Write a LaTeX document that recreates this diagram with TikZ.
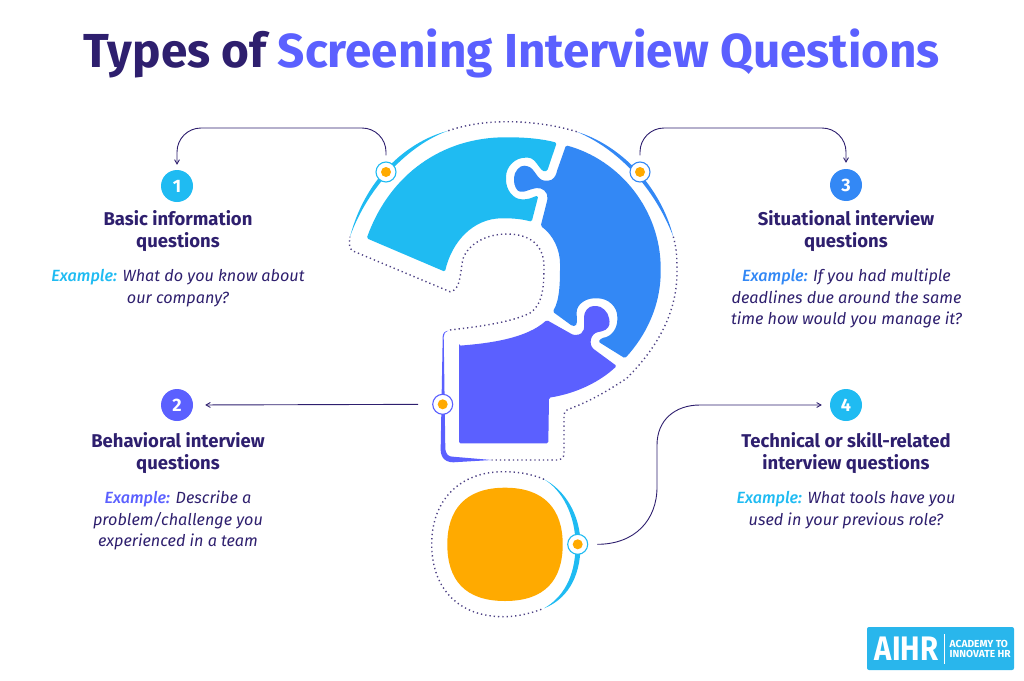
\documentclass[tikz,border=0pt]{standalone}
\usepackage{xcolor}
\usepackage{fontspec}
\setmainfont{Fira Sans}
\newfontfamily\medfont{Fira Sans Medium}
\usepackage{tikz}
\usetikzlibrary{arrows}

\definecolor{navy}{HTML}{2E1F6E}
\definecolor{skyblue}{HTML}{1FBBF2}
\definecolor{midblue}{HTML}{3388F5}
\definecolor{violet}{HTML}{5B60FF}
\definecolor{amber}{HTML}{FFAA00}
\definecolor{logoblue}{HTML}{29B6EC}

\newcommand{\exlabel}[1]{\textcolor{#1}{\medfont\itshape Example:}}

\begin{document}
\begin{tikzpicture}[
    x=1pt, y=-1pt,
    piece/.style={rounded corners=1.5pt},
    dots/.style={navy!85, line width=1.4pt, dash pattern=on 1.3pt off 3pt},
    ringmark/.style={circle, draw, line width=1.1pt, fill=white, minimum size=20pt, inner sep=0pt},
    dotmark/.style={circle, fill=amber, minimum size=10pt, inner sep=0pt},
    badge/.style={circle, minimum size=32pt, inner sep=0pt, text=white, font=\fontsize{18}{18}\selectfont\bfseries},
    heading/.style={align=center, text=navy, inner sep=0pt, font=\fontsize{18.5}{22}\selectfont\bfseries},
    sample/.style={align=center, text=navy, inner sep=0pt, font=\fontsize{16.2}{21.5}\selectfont\itshape},
    link/.style={->, >=angle 60, navy, line width=0.9pt}
]
\useasboundingbox (0,0) rectangle (1024,680);

% Title
\node[text=navy, inner sep=0pt, font=\fontsize{47.7}{47.7}\selectfont\bfseries] (title) at (512,53.5)
    {Types of \textcolor{violet}{Screening Interview Questions}};

% Puzzle pieces
\fill[piece, skyblue] (366.7,238.3) .. controls (390,173.3) and (443.3,137.3) .. (506.7,137.3)
    .. controls (525,137.3) and (541.7,138.7) .. (556.7,142.7) -- (547.3,170.7)
    .. controls (540,173.3) and (536.7,157.7) .. (526.7,157.7)
    .. controls (515,157.7) and (506,166.7) .. (506,178.3)
    .. controls (506,190) and (513.3,199.3) .. (523.3,199.3)
    .. controls (530,199.3) and (535,196) .. (538.3,196) -- (531.7,221.7)
    .. controls (521.7,219) and (513.3,218.3) .. (503.3,218.3)
    .. controls (473.3,218.3) and (451.7,241.7) .. (445,271.7) -- cycle;
\fill[piece, midblue] (566,145.3) .. controls (620,160) and (660.7,210) .. (660.7,270)
    .. controls (660.7,306.7) and (645,336.7) .. (625,358.3) -- (598.3,341.7) -- (601.7,338)
    .. controls (611.7,336.7) and (617.3,328.3) .. (617.3,318.3)
    .. controls (617.3,306.7) and (608.3,298.3) .. (596,298.3)
    .. controls (585,298.3) and (576.7,305) .. (576.7,313.3)
    .. controls (576.7,320) and (578,326) .. (572.3,326) -- (552.7,311.7)
    .. controls (560,300) and (560,280) .. (560,265)
    .. controls (560,250) and (553.3,235) .. (540.7,226) -- (547.3,200)
    .. controls (548.3,191.7) and (541.7,187.3) .. (535,188.3)
    .. controls (528.3,190) and (525,191.7) .. (521.7,191.7)
    .. controls (516.7,191.7) and (514,185) .. (514,179.3)
    .. controls (514,171.7) and (520,165) .. (525.7,166)
    .. controls (535,167.3) and (536.7,180.7) .. (546.7,180.7)
    .. controls (553.3,180.7) and (556,175) .. (556.7,171.7) -- cycle;
\fill[piece, violet] (459,345.7) -- (459,443.3) -- (548.3,443.3) -- (549,397.7)
    .. controls (576.7,393.3) and (600,381.7) .. (616.7,366) -- (595,350)
    .. controls (588.3,345) and (590,333.3) .. (600,331.7)
    .. controls (608.3,330) and (610,325) .. (609.3,320)
    .. controls (608.3,311.7) and (601.7,306) .. (595,306)
    .. controls (588.3,306) and (584,311.7) .. (584,318.3)
    .. controls (584,325) and (586.7,335) .. (573.3,335) -- (546.7,320)
    .. controls (526.7,338.3) and (490,343.3) .. (459,345.7) -- cycle;

% Dot of the question mark
\fill[amber] (505,487.7) .. controls (545,487.7) and (562.7,510) .. (562.7,544.3)
    .. controls (562.7,580) and (545,601) .. (505,601)
    .. controls (465,601) and (447.3,580) .. (447.3,544.3)
    .. controls (447.3,510) and (465,487.7) .. (505,487.7) -- cycle;

% Coloured parts of the outline
\fill[skyblue] (448.3,130.7) .. controls (405,142) and (365,180) .. (350,236.7)
    .. controls (368,186) and (410,144) .. (448.3,130.7) -- cycle;
\fill[midblue] (576.7,131.7) .. controls (620,145) and (660,185) .. (673.3,236.7)
    .. controls (654,187) and (618,149) .. (576.7,131.7) -- cycle;
\fill[violet] (491.7,460) -- (453.3,462.3) .. controls (443,462.3) and (440,455) .. (440.7,446.7)
    -- (442.7,336.7) .. controls (442.7,333) and (445,331) .. (448.3,330.7)
    .. controls (445,332) and (443.5,334) .. (443.7,336.7) -- (445.3,447)
    .. controls (445.3,455) and (449,456.7) .. (453,456.7) -- cycle;
\fill[skyblue] (544,608.3) .. controls (565,600) and (580.5,580) .. (580.5,545)
    .. controls (580.5,515) and (565,490) .. (544,479.3)
    .. controls (562,490) and (575.5,515) .. (575.5,545)
    .. controls (575.5,578) and (562,598) .. (544,608.3) -- cycle;

% Dotted outline
\draw[dots] (448.3,130.7) .. controls (465,125) and (485,121.7) .. (506.7,121.7)
    .. controls (530,121.7) and (555,125) .. (576.7,131.7);
\draw[dots] (673.3,236.7) .. controls (677,250) and (677,260) .. (677,272)
    .. controls (677,310) and (660,345) .. (626.7,378.3)
    .. controls (600,396) and (585,403) .. (568.3,409.3)
    .. controls (565,411) and (564,412) .. (564,415) -- (564,453.3)
    .. controls (564,458) and (561,460) .. (556.7,460) -- (491.7,460);
\draw[dots] (450,330) .. controls (475,327) and (510,323) .. (530,313)
    .. controls (543,305) and (544,285) .. (544,266.7)
    .. controls (544,245) and (530,234) .. (506.7,234)
    .. controls (485,234) and (468,245) .. (463.3,258)
    .. controls (460,268) and (462,290) .. (450,291.7)
    -- (353,251) .. controls (349,249) and (349,243) .. (350,236.7);
\draw[dots] (544,479.3) .. controls (532,474) and (518,471.7) .. (503.3,471.7)
    .. controls (460,471.7) and (431.7,500) .. (431.7,544)
    .. controls (431.7,590) and (460,616.7) .. (503.3,616.7)
    .. controls (518,616.7) and (532,613) .. (544,608.3);

% Number badges
\node[badge, fill=skyblue] (badgeA) at (177,186) {1};
\node[badge, fill=violet] (badgeB) at (177,405) {2};
\node[badge, fill=midblue] (badgeC) at (846,185) {3};
\node[badge, fill=skyblue] (badgeD) at (846,405) {4};

% Markers on the outline
\node[ringmark, draw=skyblue] (markA) at (386,172) {};
\node[ringmark, draw=violet] (markB) at (442.7,404.3) {};
\node[ringmark, draw=midblue] (markC) at (640,172) {};
\node[ringmark, draw=skyblue] (markD) at (577.7,544.3) {};
\node[dotmark] (dotA) at (markA) {};
\node[dotmark] (dotB) at (markB) {};
\node[dotmark] (dotC) at (markC) {};
\node[dotmark] (dotD) at (markD) {};

% Connectors
\draw[link, rounded corners=24pt, shorten <=6pt, shorten >=5pt] (markA.north) -- (markA.north |- 0,128) -- (badgeA.north |- 0,128) -- (badgeA.north);
\draw[link, rounded corners=24pt, shorten <=6pt, shorten >=6pt] (markC.north) -- (markC.north |- 0,128) -- (badgeC.north |- 0,128) -- (badgeC.north);
\draw[link, shorten <=14pt, shorten >=12pt] (markB.west) -- (badgeB.east);
\draw[link, shorten <=9pt, shorten >=8pt] (markD.east) .. controls (635,544.3) and (657,520) .. (657,487)
    -- (657,445) .. controls (657,420) and (675,405) .. (700,405) -- (badgeD.west);

% Headings
\node[heading] (headA) at (178,231) {Basic information\\questions};
\node[heading] (headB) at (178,453) {Behavioral interview\\questions};
\node[heading] (headC) at (846,231) {Situational interview\\questions};
\node[heading] (headD) at (846,453) {Technical or skill-related\\interview questions};

% Examples
\node[sample] (sampleA) at (178,288) {\exlabel{skyblue} What do you know about\\our company?};
\node[sample] (sampleB) at (178,520.5) {\exlabel{violet} Describe a\\problem/challenge you\\experienced in a team};
\node[sample] (sampleC) at (846.5,298.5) {\exlabel{midblue} If you had multiple\\deadlines due around the same\\time how would you manage it?};
\node[sample] (sampleD) at (846,510) {\exlabel{skyblue} What tools have you\\used in your previous role?};

% Logo
\node[fill=logoblue, rounded corners=2pt, minimum width=147pt, minimum height=43pt, inner sep=0pt] (logo) at (940.5,648.5) {};
\node[text=white, inner sep=0pt, font=\fontsize{34}{34}\selectfont\bfseries] (logoname) at (906.5,648.5) {\scalebox{0.86}[1]{AIHR}};
\node[minimum width=1pt, minimum height=30pt, inner sep=0pt, fill=white] (logobar) at (944,649) {};
\node[text=white, align=left, inner sep=0pt, font=\fontsize{10.2}{10.8}\selectfont\bfseries, right=0pt] (logotext) at (949.5,649) {ACADEMY TO\\INNOVATE HR};

\end{tikzpicture}
\end{document}
